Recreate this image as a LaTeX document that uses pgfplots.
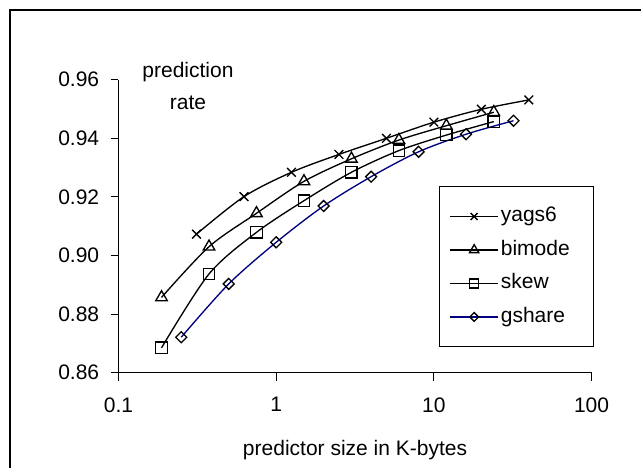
\documentclass[border=0pt]{standalone}
\usepackage{fontspec}
\setmainfont{Liberation Sans}
\usepackage{pgfplots}
\pgfplotsset{compat=1.18}
\definecolor{navyline}{RGB}{0,0,128}
\newcommand{\chartfont}{\fontsize{15.75}{18}\selectfont}
\begin{document}
\begin{tikzpicture}
\useasboundingbox (0pt,0pt) rectangle (480.75pt,351pt);
% outer frame (cut at right and bottom edge)
\draw[line width=0.9pt] (7.5pt,0pt) -- (7.5pt,343.5pt) -- (480.75pt,343.5pt);
\begin{axis}[
  at={(88.875pt,71.475pt)}, anchor=south west,
  scale only axis, width=354.8pt, height=219.75pt,
  xmode=log, xmin=0.1, xmax=100, ymin=0.86, ymax=0.96,
  axis x line*=bottom, axis y line*=left,
  axis line style={line width=0.75pt},
  xtick={0.1,1,10,100}, xticklabels={0.1,1,10,100},
  xminorticks=false,
  ytick={0.86,0.88,0.90,0.92,0.94,0.96},
  yticklabels={0.86,0.88,0.90,0.92,0.94,0.96},
  tick align=outside, major tick length=6pt,
  tick style={black, line width=0.75pt},
  ticklabel style={font=\chartfont},
  yticklabel style={xshift=-5pt},
  xticklabel style={yshift=-9pt},
  xlabel={predictor size in K-bytes},
  xlabel style={font=\chartfont, anchor=base, at={(axis description cs:0.5,-0.283)}},
  clip=false,
  every axis plot/.append style={smooth, tension=0.5},
  legend style={at={(axis description cs:0.6775,0.6372)}, anchor=north west,
    draw=black, line width=0.75pt, font=\chartfont,
    inner xsep=7.5pt, inner ysep=15pt, row sep=10.1pt, column sep=1.5pt,
    nodes={inner sep=0pt, text height=11.5pt, text depth=3.5pt}},
  legend cell align=left,
  legend image code/.code={\draw[mark repeat=2,mark phase=2,#1,/tikz/every mark/.append style={scale=0.8}] plot coordinates {(0pt,0pt) (18pt,0pt) (36pt,0pt)};},
]
\addplot[black, line width=1pt, mark=x, mark size=4.6pt, mark options={solid, line width=1pt}] coordinates {
  (0.3125,0.9073) (0.625,0.9201) (1.25,0.9284) (2.5,0.9345)
  (5,0.9400) (10,0.9455) (20,0.9499) (40,0.9531)
};
\addlegendentry{\makebox[62pt][l]{yags6}}
\addplot[black, line width=1pt, mark=triangle, mark size=5pt, mark options={solid, fill=white, line width=1pt}] coordinates {
  (0.1875,0.8857) (0.375,0.9030) (0.75,0.9144) (1.5,0.9253)
  (3,0.9330) (6,0.9394) (12,0.9443) (24,0.9489)
};
\addlegendentry{\makebox[62pt][l]{bimode}}
\addplot[black, line width=1pt, mark=square, mark size=4.3pt, mark options={solid, fill=white, line width=1pt}] coordinates {
  (0.1875,0.8685) (0.375,0.8937) (0.75,0.9079) (1.5,0.9187)
  (3,0.9284) (6,0.9358) (12,0.9411) (24,0.9457)
};
\addlegendentry{\makebox[62pt][l]{skew}}
\addplot[navyline, line width=1pt, mark=square, mark size=2.9pt, mark options={solid, black, fill=white, rotate=45, line width=1pt}] coordinates {
  (0.25,0.8721) (0.5,0.8903) (1,0.9045) (2,0.9169)
  (4,0.9269) (8,0.9354) (16,0.9414) (32,0.9460)
};
\addlegendentry{\makebox[62pt][l]{gshare}}
\end{axis}
\node[font=\chartfont, anchor=base] at (141pt,292.7pt) {prediction};
\node[font=\chartfont, anchor=base] at (141pt,268.5pt) {rate};
\end{tikzpicture}
\end{document}
